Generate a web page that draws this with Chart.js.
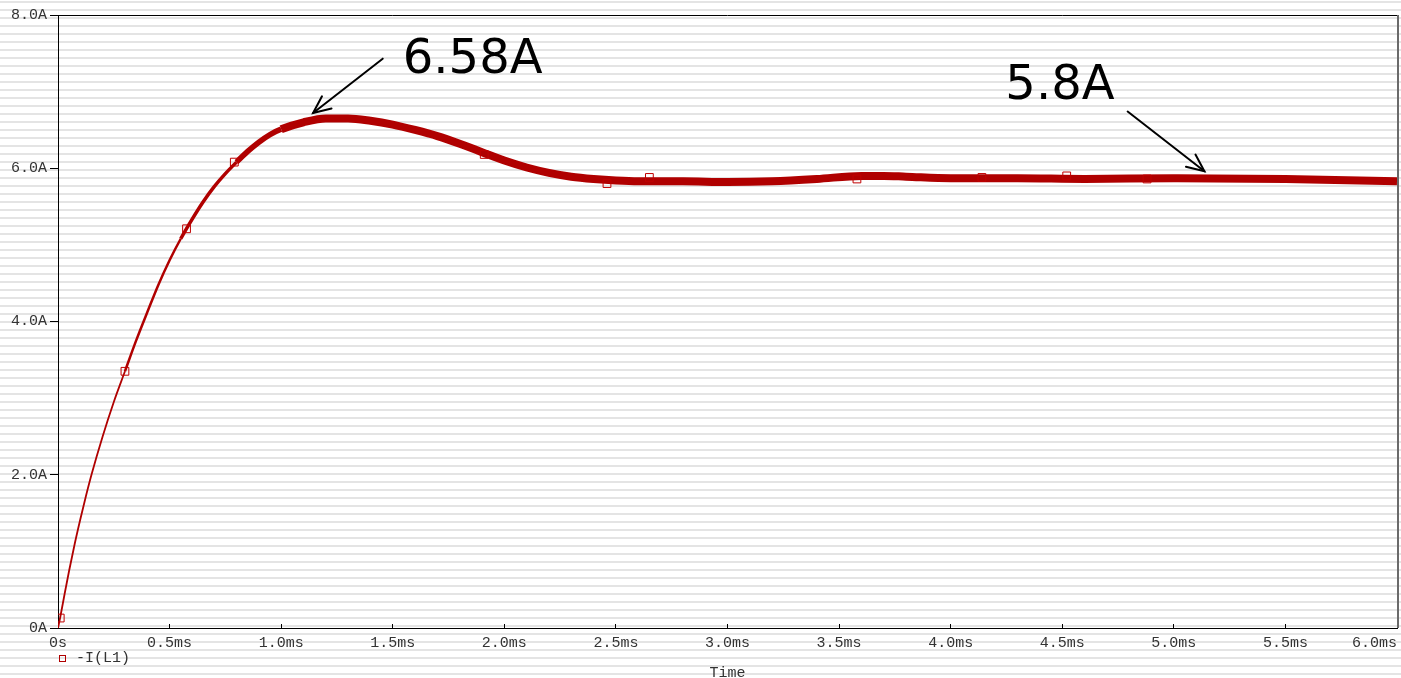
<!DOCTYPE html>
<html><head><meta charset="utf-8">
<script src="https://cdn.jsdelivr.net/npm/chart.js@4.4.1/dist/chart.umd.min.js"></script>
<style>html,body{margin:0;padding:0;background:#fff;overflow:hidden}#wrap{width:1401px;height:678px;position:relative}</style>
</head><body><div id="wrap"><canvas id="c" width="1401" height="678"></canvas></div>
<script>
// ---- data ----
const timeMs = [0, 0.01, 0.03, 0.05, 0.075, 0.1, 0.125, 0.15, 0.2, 0.25, 0.3, 0.35, 0.4, 0.45, 0.5, 0.55, 0.6, 0.65, 0.7, 0.75, 0.8, 0.85, 0.9, 0.95, 1.0, 1.1, 1.2, 1.3, 1.4, 1.5, 1.6, 1.7, 1.8, 1.9, 2.0, 2.1, 2.2, 2.3, 2.4, 2.5, 2.6, 2.8, 3.0, 3.2, 3.4, 3.6, 3.7, 3.8, 4.0, 4.3, 4.6, 5.0, 5.5, 6.0];
const currentA = [0, 0.14, 0.45, 0.75, 1.1, 1.42, 1.72, 2.0, 2.5, 2.95, 3.35, 3.75, 4.12, 4.48, 4.8, 5.08, 5.33, 5.56, 5.76, 5.93, 6.08, 6.22, 6.34, 6.44, 6.51, 6.6, 6.65, 6.65, 6.62, 6.57, 6.5, 6.42, 6.32, 6.21, 6.1, 6.01, 5.94, 5.89, 5.86, 5.84, 5.83, 5.83, 5.82, 5.83, 5.86, 5.9, 5.9, 5.89, 5.87, 5.87, 5.86, 5.87, 5.86, 5.83];
const markerTimeMs = [0.01, 0.30, 0.576, 0.79, 1.91, 2.46, 2.65, 3.58, 4.14, 4.52, 4.88];
const markerCurrentA = [0.13, 3.35, 5.21, 6.08, 6.18, 5.80, 5.88, 5.86, 5.88, 5.90, 5.86];
const xTickLabels = ['0s', '0.5ms', '1.0ms', '1.5ms', '2.0ms', '2.5ms', '3.0ms', '3.5ms', '4.0ms', '4.5ms', '5.0ms', '5.5ms', '6.0ms     '];
const yTickLabels = ['0A', '2.0A', '4.0A', '6.0A', '8.0A'];
const seriesLabel = '-I(L1)';
const xAxisTitle = 'Time';
const calloutText = ['6.58A', '5.8A'];
const calloutTextT = [1.545, 4.245];
const calloutTextI = [7.24, 6.90];
const calloutTailT = [1.455, 4.793];
const calloutTailI = [7.43, 6.74];
const calloutTipT = [1.143, 5.137];
const calloutTipI = [6.72, 5.96];

// ---- styling ----
const RED = '#b00000';
const MONO = '"Liberation Mono", "DejaVu Sans Mono", monospace';
const TXT = '#333333';

const stripes = {
  id: 'stripes',
  beforeDraw(chart) {
    const ctx = chart.ctx;
    ctx.save();
    ctx.fillStyle = '#ffffff';
    ctx.fillRect(0, 0, chart.width, chart.height);
    ctx.fillStyle = '#e4e4e4';
    for (let y = 1; y < chart.height; y += 8) ctx.fillRect(0, y, chart.width, 2);
    ctx.restore();
  }
};

const frameAndNotes = {
  id: 'frameAndNotes',
  afterDraw(chart) {
    const ctx = chart.ctx, a = chart.chartArea;
    const xs = chart.scales.x, ys = chart.scales.y;
    ctx.save();
    // top and right frame
    ctx.strokeStyle = '#000'; ctx.lineWidth = 1;
    ctx.beginPath(); ctx.moveTo(a.left, a.top + 0.5); ctx.lineTo(a.right, a.top + 0.5); ctx.stroke();
    ctx.strokeStyle = '#6a6a6a'; ctx.lineWidth = 2;
    ctx.beginPath(); ctx.moveTo(a.right + 1, a.top); ctx.lineTo(a.right + 1, a.bottom); ctx.stroke();
    // legend entry
    ctx.strokeStyle = RED; ctx.lineWidth = 1;
    ctx.strokeRect(59.5, 655.5, 6, 6);
    ctx.fillStyle = TXT; ctx.font = '15px ' + MONO; ctx.textBaseline = 'middle'; ctx.textAlign = 'left';
    ctx.fillText(chart.data.datasets[0].label, 76, 658.5);
    // callouts
    ctx.fillStyle = '#000'; ctx.font = '48px "DejaVu Sans", sans-serif'; ctx.textBaseline = 'alphabetic';
    ctx.strokeStyle = '#000'; ctx.lineWidth = 2; ctx.lineCap = 'round';
    for (let i = 0; i < calloutText.length; i++) {
      ctx.fillText(calloutText[i], xs.getPixelForValue(calloutTextT[i]), ys.getPixelForValue(calloutTextI[i]));
      const x1 = xs.getPixelForValue(calloutTailT[i]), y1 = ys.getPixelForValue(calloutTailI[i]);
      const x2 = xs.getPixelForValue(calloutTipT[i]), y2 = ys.getPixelForValue(calloutTipI[i]);
      ctx.beginPath(); ctx.moveTo(x1, y1); ctx.lineTo(x2, y2); ctx.stroke();
      const ang = Math.atan2(y1 - y2, x1 - x2), L = 19, sp = 0.42;
      ctx.beginPath();
      ctx.moveTo(x2 + L * Math.cos(ang - sp), y2 + L * Math.sin(ang - sp));
      ctx.lineTo(x2, y2);
      ctx.lineTo(x2 + L * Math.cos(ang + sp), y2 + L * Math.sin(ang + sp));
      ctx.stroke();
    }
    ctx.restore();
  }
};

new Chart(document.getElementById('c'), {
  type: 'line',
  data: {
    datasets: [
      {
        label: seriesLabel,
        order: 2,
        data: timeMs.map((t, i) => ({ x: t, y: currentA[i] })),
        borderColor: RED,
        borderWidth: 7,
        cubicInterpolationMode: 'monotone',
        pointRadius: 0,
        segment: {
          borderWidth: c => {
            const t = c.p0.parsed.x;
            return t < 0.3 ? 1.8 : t < 0.55 ? 2.5 : t < 0.8 ? 3.5 : t < 1.0 ? 5.5 : 8;
          }
        }
      },
      {
        label: seriesLabel + ' markers',
        order: 1,
        data: markerTimeMs.map((t, i) => ({ x: t, y: markerCurrentA[i] })),
        showLine: false,
        pointStyle: 'rect',
        pointRadius: 5.5,
        pointBorderWidth: 1,
        pointBorderColor: '#c00000',
        pointBackgroundColor: 'rgba(0,0,0,0)'
      }
    ]
  },
  options: {
    responsive: false,
    animation: false,
    devicePixelRatio: 1,
    layout: { autoPadding: false, padding: { top: 15, right: 4, left: 0, bottom: 0 } },
    plugins: { legend: { display: false }, tooltip: { enabled: false } },
    scales: {
      x: {
        type: 'linear', min: 0, max: 6,
        afterFit(s) { s.height = 50; s.paddingRight = 0; s.paddingLeft = 0; },
        ticks: {
          stepSize: 0.5, autoSkip: false, maxRotation: 0, padding: 10, color: TXT,
          font: { family: MONO, size: 15 },
          callback: (v) => xTickLabels[Math.round(v / 0.5)]
        },
        grid: { drawOnChartArea: false, drawTicks: true, tickLength: -4, color: '#000' },
        border: { display: true, color: '#000', width: 1 },
        title: { display: true, text: xAxisTitle, color: TXT, font: { family: MONO, size: 15, lineHeight: 0.667 }, padding: { top: 22, bottom: 0 } }
      },
      y: {
        min: 0, max: 8,
        afterFit(s) { s.width = 58; s.paddingTop = 0; s.paddingBottom = 0; },
        ticks: {
          stepSize: 2, padding: 3, color: TXT,
          font: { family: MONO, size: 15 },
          callback: (v) => yTickLabels[Math.round(v / 2)]
        },
        grid: { drawOnChartArea: false, drawTicks: true, tickLength: 8, color: '#000' },
        border: { display: true, color: '#000', width: 1 }
      }
    }
  },
  plugins: [stripes, frameAndNotes]
});
</script></body></html>
